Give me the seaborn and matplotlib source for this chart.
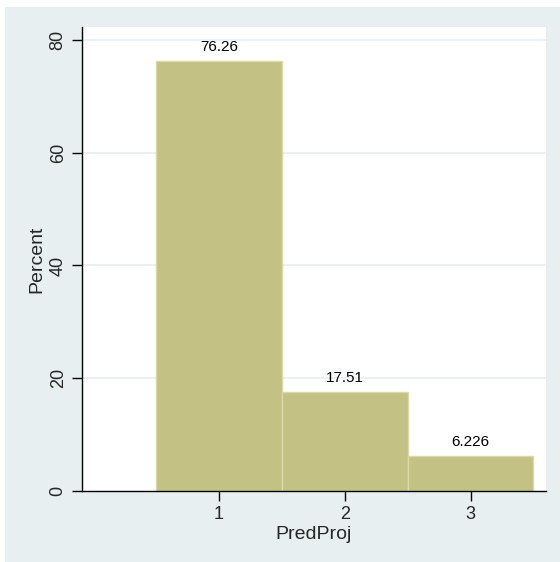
import matplotlib
matplotlib.use("Agg")
import matplotlib.pyplot as plt
import seaborn as sns
from matplotlib.patches import Rectangle

categories = [1, 2, 3]
percents = [76.26, 17.51, 6.226]
value_labels = ["76.26", "17.51", "6.226"]
y_ticks = [0, 20, 40, 60, 80]
x_ticks = [1, 2, 3]

sns.set_style("white")
plt.rcParams["font.family"] = ["Liberation Sans", "DejaVu Sans"]

fig = plt.figure(figsize=(5.6, 5.62), dpi=100, facecolor="white")
panel_color = "#e7eff1"
fig.patches.append(Rectangle((5 / 560, 0), 1, 1 - 7 / 562, transform=fig.transFigure,
                             facecolor=panel_color, edgecolor="none", zorder=-10))
ax = fig.add_axes([82 / 560, 1 - 491 / 562, (546 - 82) / 560, (491 - 27) / 562])
ax.set_facecolor("white")

sns.histplot(x=categories, weights=percents, discrete=True, shrink=1, ax=ax,
             color="#c4c185", edgecolor="#dcd9a8", linewidth=1, alpha=1, zorder=2)

for p, lab in zip(ax.patches, value_labels):
    ax.text(p.get_x() + p.get_width() / 2, p.get_height() + 1.3, lab,
            ha="center", va="bottom", fontsize=11, color="black", zorder=3)

ax.set_xlim(-0.09, 3.6)
ax.set_ylim(0, 82.3)
ax.set_yticks(y_ticks)
ax.set_xticks(x_ticks)
ax.set_yticklabels([str(v) for v in y_ticks], rotation=90, va="center", fontsize=13)
ax.set_xticklabels([str(v) for v in x_ticks], fontsize=13)
for v in y_ticks[1:]:
    ax.axhline(v, color="#e6eef1", linewidth=1.2, zorder=1)

ax.tick_params(axis="both", direction="out", length=7, width=1, color="black",
               left=True, bottom=True, pad=4)
for s in ["top", "right"]:
    ax.spines[s].set_visible(False)
for s in ["left", "bottom"]:
    ax.spines[s].set_color("black")
    ax.spines[s].set_linewidth(1)

ax.set_xlabel("PredProj", fontsize=14, labelpad=2)
ax.set_ylabel("Percent", fontsize=14, labelpad=3)

fig.savefig("out.png", dpi=100, facecolor="white")
